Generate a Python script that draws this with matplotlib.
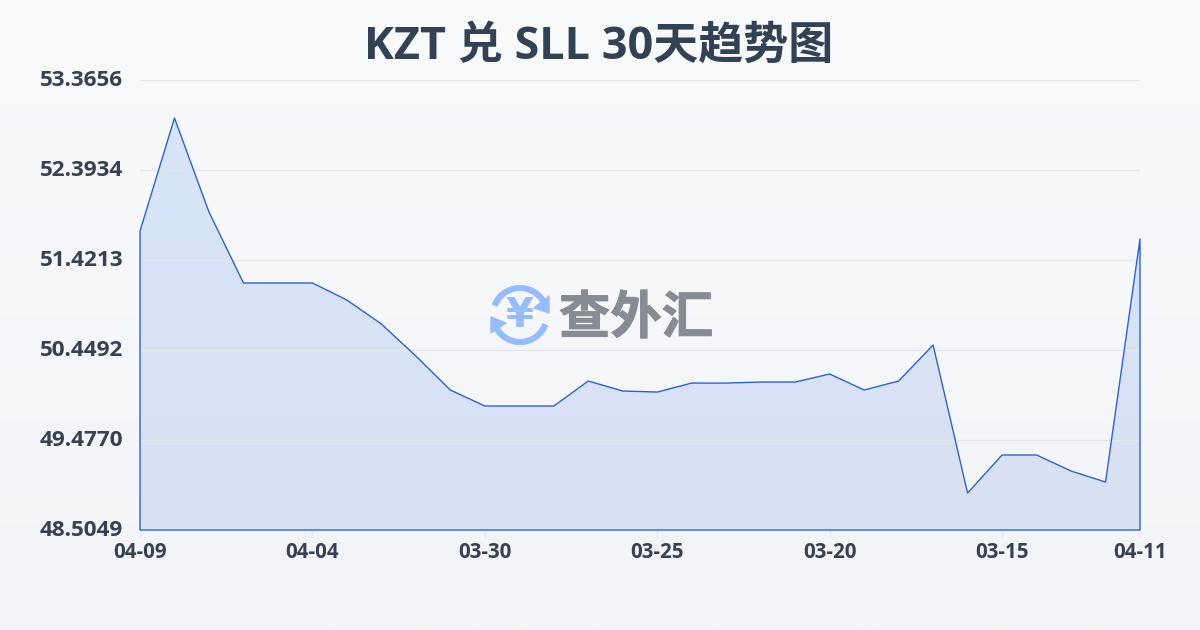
import numpy as np
import matplotlib
matplotlib.use("Agg")
import matplotlib.pyplot as plt
import matplotlib.patheffects as pe
from matplotlib.patches import Arc, Polygon
from matplotlib.transforms import ScaledTranslation

plt.rcParams["font.family"] = ["Open Sans", "Noto Sans CJK SC", "DejaVu Sans"]

title = "KZT 兑 SLL 30天趋势图"
rates = [51.734, 52.955, 51.940, 51.173, 51.173, 51.173, 50.989, 50.730, 50.384, 50.017,
         49.844, 49.844, 49.844, 50.114, 50.006, 49.995, 50.092, 50.092, 50.103, 50.103,
         50.190, 50.017, 50.114, 50.503, 48.904, 49.315, 49.315, 49.142, 49.023, 51.648]
y_ticks = [53.3656, 52.3934, 51.4213, 50.4492, 49.4770, 48.5049]
x_tick_pos = [0, 5, 10, 15, 20, 25, 29]
x_tick_labels = ["04-09", "04-04", "03-30", "03-25", "03-20", "03-15", "04-11"]

text_color = "#374151"
line_color = "#2f63c8"
grid_color = "#e3e7ee"
tick_color = "#e3e7ee"

fig = plt.figure(figsize=(12, 6.3), dpi=100)

# page background, soft vertical gradient
bg = fig.add_axes([0, 0, 1, 1], zorder=0)
bg.imshow(np.linspace(0, 1, 256).reshape(-1, 1),
          cmap=matplotlib.colors.LinearSegmentedColormap.from_list("bg", ["#f9fafc", "#f3f4f7"]),
          aspect="auto", extent=[0, 1200, 630, 0])
bg.set_xlim(0, 1200)
bg.set_ylim(630, 0)
bg.axis("off")

ax = fig.add_axes([140 / 1200, 100 / 630, 1000 / 1200, 450 / 630], zorder=1)
ax.patch.set_alpha(0)
x = np.arange(len(rates))
ax.set_xlim(0, len(rates) - 1)
ax.set_ylim(y_ticks[-1], y_ticks[0])

# gradient area under the line
poly = ax.fill_between(x, rates, y_ticks[-1], facecolor="none", edgecolor="none")
grad = ax.imshow(np.linspace(0, 1, 256).reshape(-1, 1),
                 cmap=matplotlib.colors.LinearSegmentedColormap.from_list("fill", ["#d7e4f8", "#d9e1f4"]),
                 aspect="auto", extent=[0, len(rates) - 1, y_ticks[-1], y_ticks[0]],
                 zorder=1)
grad.set_clip_path(poly.get_paths()[0], transform=ax.transData)
ax.set_xlim(0, len(rates) - 1)
ax.set_ylim(y_ticks[-1], y_ticks[0])

ax.set_yticks(y_ticks)
ax.set_yticklabels([f"{v:.4f}" for v in y_ticks], va="center_baseline")
ax.set_xticks(x_tick_pos)
ax.set_xticklabels(x_tick_labels)
ax.grid(axis="y", color=grid_color, linewidth=1, zorder=2)
ax.set_axisbelow(False)
ax.tick_params(axis="y", length=0, pad=12, labelsize=16.2, labelcolor=text_color)
ax.tick_params(axis="x", length=5, width=1, color=tick_color, pad=4, labelsize=14.8, labelcolor=text_color)
for lab in ax.get_xticklabels() + ax.get_yticklabels():
    lab.set_fontweight("bold")
# y labels sit a little above their grid lines
nudge = ScaledTranslation(0, 2 / 100, fig.dpi_scale_trans)
for lab in ax.get_yticklabels():
    lab.set_transform(lab.get_transform() + nudge)
for s in ax.spines.values():
    s.set_visible(False)

# closed outline, runs down the sides and along the base too
ax.fill_between(x, rates, y_ticks[-1], facecolor="none", edgecolor=line_color,
                linewidth=1.0, zorder=3, clip_on=False)

# title
bg.text(599, 47, title, ha="center", va="center", fontsize=32.4, fontweight="bold", color="#334155")

# watermark logo
logo = fig.add_axes([0, 0, 1, 1], zorder=2)
logo.set_xlim(0, 1200)
logo.set_ylim(630, 0)
logo.axis("off")
logo_blue = "#96bdfa"
logo.add_patch(Arc((520, 315), 54, 54, theta1=20, theta2=160, color=logo_blue, lw=4.5))
logo.add_patch(Arc((520, 315), 54, 54, theta1=200, theta2=340, color=logo_blue, lw=4.5))
logo.add_patch(Polygon([[549, 296], [549, 313], [534, 308]], closed=True, color=logo_blue))
logo.add_patch(Polygon([[491, 317], [491, 333], [506, 323]], closed=True, color=logo_blue))
logo.text(520, 316, "¥", ha="center", va="center", fontsize=29, fontweight="bold", color=logo_blue,
          family=["DejaVu Sans"])
wm = logo.text(636, 318, "查外汇", ha="center", va="center", fontsize=37, fontweight="heavy",
               color="#868b94", family=["Noto Sans CJK SC", "DejaVu Sans"])
wm.set_path_effects([pe.withStroke(linewidth=0.7, foreground="#868b94")])

fig.savefig("out.png", dpi=100)
plt.close()
